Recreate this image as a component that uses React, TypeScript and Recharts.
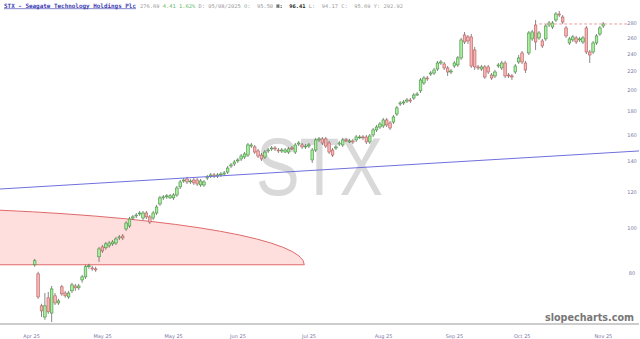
import React from 'react';
import { ComposedChart, Bar, XAxis, YAxis, ReferenceLine, ReferenceArea } from 'recharts';

const opens = [83.3, 79.6, 67.8, 64.1, 70.6, 65.4, 71.3, 68.8, 74.6, 72.3, 70.9, 73.1, 74.9, 74.2, 77.2, 78.4, 82.5, 82.0, 81.6, 86.7, 91.1, 90.7, 91.6, 92.5, 92.9, 95.3, 96.2, 99.7, 101.2, 105.3, 106.4, 107.5, 105.3, 108.0, 105.9, 105.3, 108.0, 113.0, 116.5, 117.1, 116.5, 116.5, 118.2, 123.1, 126.8, 128.1, 126.2, 127.4, 127.4, 124.3, 124.3, 128.7, 130.0, 130.7, 130.0, 130.7, 131.3, 132.6, 136.7, 138.1, 140.2, 141.6, 143.0, 144.4, 151.1, 150.4, 147.4, 144.4, 143.0, 147.4, 148.9, 149.6, 148.1, 147.4, 146.6, 146.6, 149.6, 146.6, 152.6, 151.9, 150.4, 151.1, 140.9, 148.1, 155.8, 156.6, 156.6, 153.4, 148.1, 149.6, 152.6, 151.9, 155.8, 154.2, 155.0, 155.8, 157.4, 158.1, 158.1, 154.2, 159.7, 163.8, 166.2, 167.1, 172.2, 169.6, 170.4, 177.4, 186.5, 187.5, 189.3, 190.3, 192.2, 195.1, 199.2, 207.3, 212.5, 216.8, 217.9, 222.3, 229.1, 228.0, 223.5, 219.0, 225.7, 226.9, 235.0, 263.7, 261.1, 261.1, 244.6, 224.6, 222.3, 224.6, 224.6, 215.7, 214.7, 225.7, 223.5, 229.1, 215.7, 214.7, 219.0, 230.3, 240.9, 229.1, 240.9, 258.5, 277.2, 259.8, 255.9, 258.5, 277.2, 274.4, 284.2, 292.9, 288.5, 273.1, 253.3, 257.2, 259.8, 257.2, 254.6, 273.1, 242.1, 242.1, 253.3, 265.0, 275.8];
const highs = [85.8, 80.4, 68.5, 72.3, 72.7, 74.9, 72.3, 70.2, 75.3, 73.1, 73.1, 76.1, 75.7, 75.7, 79.2, 83.3, 83.7, 82.9, 82.5, 91.1, 92.0, 93.4, 93.9, 94.3, 95.8, 96.7, 97.2, 103.7, 105.9, 106.9, 108.0, 109.1, 109.1, 109.1, 106.9, 109.1, 112.5, 117.7, 118.2, 118.8, 118.8, 119.4, 123.7, 127.4, 128.7, 129.4, 128.1, 128.7, 128.7, 128.1, 127.4, 130.7, 132.0, 132.0, 132.0, 132.6, 133.3, 136.7, 138.8, 140.9, 142.3, 145.2, 146.6, 153.4, 153.4, 151.9, 148.9, 145.9, 148.1, 149.6, 151.1, 151.1, 149.6, 149.6, 149.6, 150.4, 151.1, 153.4, 155.0, 153.4, 152.6, 153.4, 149.6, 157.4, 158.1, 158.1, 158.1, 155.0, 149.6, 151.9, 155.0, 157.4, 157.4, 156.6, 156.6, 159.7, 159.7, 159.7, 159.7, 160.5, 165.4, 167.9, 170.4, 173.9, 173.9, 171.3, 176.5, 184.7, 189.3, 190.3, 192.2, 192.2, 197.1, 198.1, 212.5, 214.7, 214.7, 220.1, 223.5, 231.5, 232.6, 230.3, 225.7, 222.3, 231.5, 237.3, 259.8, 267.7, 263.7, 265.0, 248.3, 226.9, 226.9, 226.9, 226.9, 217.9, 221.2, 229.1, 231.5, 231.5, 217.9, 216.8, 228.0, 238.5, 243.3, 231.5, 269.0, 270.4, 284.2, 269.0, 258.5, 278.6, 282.8, 282.8, 295.8, 297.3, 291.4, 275.8, 261.1, 263.7, 262.4, 261.1, 262.4, 275.8, 244.6, 255.9, 265.0, 275.8, 281.4];
const lows = [82.5, 70.2, 64.1, 63.2, 65.1, 62.5, 68.1, 68.1, 71.3, 70.6, 70.2, 72.3, 73.1, 73.4, 76.1, 77.6, 81.6, 80.8, 80.4, 84.5, 88.4, 89.8, 90.7, 91.6, 92.0, 94.3, 94.3, 98.7, 100.2, 104.3, 105.3, 106.4, 104.3, 104.8, 102.2, 104.3, 106.9, 111.9, 115.3, 115.9, 115.9, 115.3, 117.1, 121.8, 125.6, 124.9, 124.9, 124.3, 123.7, 123.1, 123.1, 127.4, 128.7, 128.7, 128.7, 129.4, 130.0, 131.3, 135.3, 136.7, 138.8, 140.2, 141.6, 143.0, 149.6, 145.2, 142.3, 140.2, 141.6, 145.9, 147.4, 147.4, 145.9, 145.9, 145.9, 145.2, 148.1, 145.2, 151.1, 148.9, 148.9, 149.6, 138.8, 146.6, 154.2, 151.9, 149.6, 145.2, 143.0, 148.1, 151.1, 150.4, 154.2, 153.4, 152.6, 154.2, 156.6, 155.8, 152.6, 152.6, 158.1, 162.1, 164.6, 165.4, 166.2, 163.8, 168.7, 175.6, 184.7, 185.6, 187.5, 187.5, 190.3, 194.1, 197.1, 205.2, 209.4, 214.7, 215.7, 220.1, 226.9, 221.2, 214.7, 216.8, 223.5, 224.6, 232.6, 252.0, 252.0, 223.5, 221.2, 221.2, 220.1, 211.5, 216.8, 210.4, 212.5, 223.5, 221.2, 212.5, 212.5, 210.4, 216.8, 228.0, 228.0, 217.9, 238.5, 255.9, 244.6, 257.2, 247.0, 255.9, 274.4, 271.7, 281.4, 288.5, 278.6, 259.8, 250.8, 254.6, 252.0, 254.6, 252.0, 239.7, 229.1, 239.7, 250.8, 262.4, 273.1];
const closes = [85.0, 70.9, 66.1, 67.8, 65.8, 73.8, 68.8, 69.5, 72.0, 71.3, 72.3, 75.3, 74.2, 74.9, 78.4, 82.5, 82.9, 81.6, 81.2, 90.2, 89.3, 92.5, 92.9, 93.4, 94.8, 95.8, 95.3, 102.7, 104.8, 105.9, 106.9, 108.0, 108.0, 105.9, 103.2, 108.0, 111.3, 116.5, 117.1, 117.7, 117.7, 118.2, 122.4, 126.2, 127.4, 126.2, 126.8, 125.6, 124.9, 126.8, 126.2, 129.4, 130.7, 130.0, 130.7, 131.3, 132.0, 135.3, 137.4, 139.5, 140.9, 143.7, 145.2, 151.9, 151.9, 146.6, 143.7, 141.6, 146.6, 148.1, 149.6, 148.9, 147.4, 148.1, 148.1, 148.9, 148.9, 151.9, 153.4, 150.4, 151.1, 151.9, 148.1, 155.8, 156.6, 153.4, 151.1, 146.6, 144.4, 150.4, 153.4, 155.8, 155.0, 155.0, 154.2, 158.1, 158.1, 157.4, 154.2, 158.9, 163.8, 166.2, 168.7, 172.2, 167.9, 165.4, 174.8, 182.9, 187.5, 188.4, 190.3, 189.3, 195.1, 196.1, 210.4, 212.5, 211.5, 217.9, 221.2, 229.1, 230.3, 223.5, 219.0, 220.1, 229.1, 235.0, 257.2, 254.6, 255.9, 225.7, 224.6, 223.5, 224.6, 213.6, 219.0, 212.5, 219.0, 226.9, 229.1, 214.7, 214.7, 213.6, 225.7, 235.0, 230.3, 221.2, 266.3, 267.7, 254.6, 266.3, 249.5, 275.8, 280.0, 280.0, 292.9, 291.4, 281.4, 262.4, 258.5, 261.1, 254.6, 258.5, 259.8, 242.1, 238.5, 253.3, 262.4, 273.1, 278.6];

const xTickIdx = [-1, 20, 41, 60, 81, 103, 124, 144, 168];
const xTickLabels = ['Apr 25', 'May 25', 'May 25', 'Jun 25', 'Jul 25', 'Aug 25', 'Sep 25', 'Oct 25', 'Nov 25'];
const priceTicks = [80, 100, 120, 140, 160, 180, 200, 220, 240, 260, 280];

// drawn annotations, in (bar index, price)
const trendLine = [{ x: -10.32, y: 121.8 }, { x: 178.5, y: 147.4 }];
const lastPriceLine = [{ x: 149, y: 278.6 }, { x: 175, y: 278.6 }];
const arcBox = { x1: -10.32, x2: 79.6, y1: 83.3, y2: 111.3 };

const X_DOMAIN = [-10.32, 178.5];
const Y_DOMAIN = [61.9, 314.2];
const W = 640;
const H = 339;

const rows = opens.map((o, i) => ({
  i,
  open: o,
  high: highs[i],
  low: lows[i],
  close: closes[i],
  range: [lows[i], highs[i]],
}));

function Candle(props: any) {
  const { x, y, width, height, payload } = props;
  if (x == null || y == null || !payload) return null;
  const { open, close, high, low } = payload;
  const cx = x + width / 2;
  const yTop = Math.min(y, y + height);
  const yBot = Math.max(y, y + height);
  const span = Math.log(high) - Math.log(low);
  const py = (v: number) => (span > 0 ? yTop + ((yBot - yTop) * (Math.log(high) - Math.log(v))) / span : yTop);
  const up = close >= open;
  const top = py(Math.max(open, close));
  const bot = py(Math.min(open, close));
  const bw = 2.6;
  return (
    <g>
      <line x1={cx} x2={cx} y1={yTop} y2={yBot} stroke="#555" strokeWidth={0.7} />
      <rect
        x={cx - bw / 2}
        y={top}
        width={bw}
        height={Math.max(bot - top, 0.8)}
        fill={up ? '#aaeca0' : '#f5b5b5'}
        stroke={up ? '#3f8f3a' : '#b85a5a'}
        strokeWidth={0.6}
      />
    </g>
  );
}

function ArcShape(props: any) {
  const { x, y, width, height } = props;
  if (x == null || y == null) return null;
  const a = width * 1.49;
  const b = height;
  const bottom = y + height;
  const cx = x + width - a;
  const t = (x - cx) / a;
  const yl = bottom - b * Math.sqrt(1 - t * t);
  return (
    <g>
      <path d={`M${x},${bottom} L${x},${yl} A${a},${b} 0 0 1 ${x + width},${bottom} Z`} fill="#ffdede" stroke="none" />
      <path d={`M${x},${yl} A${a},${b} 0 0 1 ${x + width},${bottom} L${x},${bottom}`} fill="none" stroke="#e06a6a" strokeWidth={1} />
    </g>
  );
}

function PriceTick(props: any) {
  const { y, payload } = props;
  return (
    <text x={632} y={y} dy={2} textAnchor="middle" fontSize={5} fill="#7a7aa6" fontFamily="'DejaVu Sans', sans-serif">
      {payload.value}
    </text>
  );
}

export default function App() {
  return (
    <div style={{ position: 'absolute', left: 0, top: 0, width: W, height: H, background: '#fff', overflow: 'hidden' }}>
      <svg width={W} height={H} style={{ position: 'absolute', left: 0, top: 0 }}>
        <text x={256} y={195} fontSize={82} fontFamily="'Liberation Sans', Arial, sans-serif" fill="#d9d9d9" textLength={127} lengthAdjust="spacingAndGlyphs">
          STX
        </text>
      </svg>
      <div style={{ position: 'absolute', left: 0, top: 0 }}>
        <ComposedChart width={W} height={H} data={rows} margin={{ top: 0, right: 0, bottom: 0, left: 0 }}>
          <XAxis
            dataKey="i"
            type="number"
            domain={X_DOMAIN}
            allowDataOverflow
            ticks={xTickIdx}
            interval={0}
            tickFormatter={(v: number) => xTickLabels[xTickIdx.indexOf(v)] ?? ''}
            height={15}
            axisLine={{ stroke: '#cccccc', strokeWidth: 2 }}
            tickLine={false}
            tickMargin={4}
            tick={{ fontSize: 5, fill: '#7a7aa6', fontFamily: "'DejaVu Sans', sans-serif" }}
          />
          <YAxis
            type="number"
            scale="log"
            orientation="right"
            width={1}
            domain={Y_DOMAIN}
            allowDataOverflow
            ticks={priceTicks}
            interval={0}
            axisLine={false}
            tickLine={false}
            tick={PriceTick}
          />
          <ReferenceArea x1={arcBox.x1} x2={arcBox.x2} y1={arcBox.y1} y2={arcBox.y2} shape={ArcShape} ifOverflow="visible" />
          <ReferenceLine segment={trendLine} stroke="#7070dd" strokeWidth={1} ifOverflow="visible" />
          <ReferenceLine segment={lastPriceLine} stroke="#eea0a0" strokeWidth={1} strokeDasharray="3 2" ifOverflow="visible" />
          <Bar dataKey="range" barSize={3} shape={Candle} isAnimationActive={false} />
        </ComposedChart>
      </div>
      <svg width={W} height={H} style={{ position: 'absolute', left: 0, top: 0, pointerEvents: 'none' }}>
        <text x={4} y={7.5} fontSize={6} fontWeight="bold" fontFamily="'DejaVu Sans Mono', monospace" fill="#3b3bb0" textDecoration="underline" textLength={132} lengthAdjust="spacingAndGlyphs">
          STX - Seagate Technology Holdings Plc
        </text>
        <text x={140} y={7.5} fontSize={5.2} fontFamily="'DejaVu Sans Mono', monospace" fill="#999" textLength={263} lengthAdjust="spacingAndGlyphs" xmlSpace="preserve">
          <tspan fill="#999">276.69 </tspan>
          <tspan fill="#5cb85c">4.41 1.62% </tspan>
          <tspan fill="#999">D: 05/08/2025 O:  95.50 </tspan>
          <tspan fill="#222" fontWeight="bold">H:  96.41 </tspan>
          <tspan fill="#999">L:  94.17 C:  95.69 Y: 292.92</tspan>
        </text>
        <text x={545} y={321} fontSize={10} fontWeight="bold" fontFamily="'DejaVu Sans', sans-serif" fill="#777" textLength={89} lengthAdjust="spacingAndGlyphs">
          slopecharts.com
        </text>
      </svg>
    </div>
  );
}
